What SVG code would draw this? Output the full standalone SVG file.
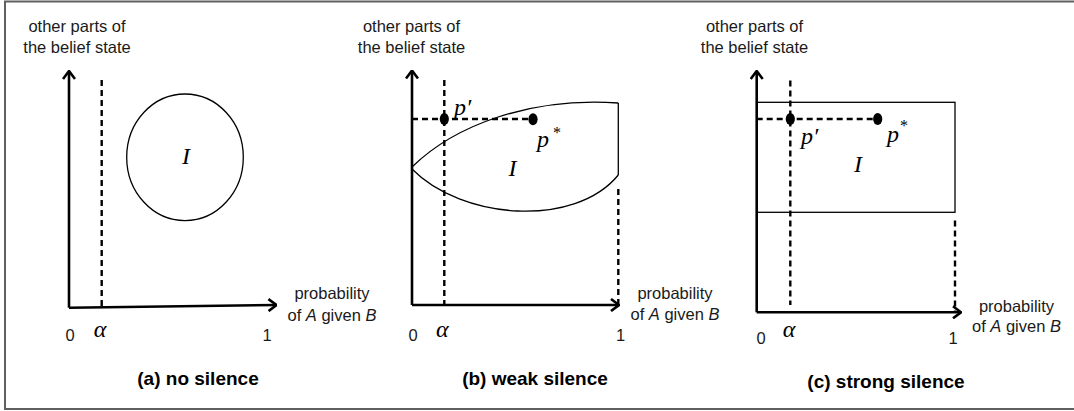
<svg xmlns="http://www.w3.org/2000/svg" width="1074" height="411" viewBox="0 0 1074 411">
  <style>
    .ax { stroke:#000; stroke-width:2.6; fill:none; marker-end:url(#arr); }
    .dash { stroke:#000; stroke-width:2.4; stroke-dasharray:6 4; fill:none; }
    .thin { stroke:#000; stroke-width:1.3; fill:none; }
    .dot { fill:#000; }
    .lbl { font-family:"Liberation Sans", Arial, sans-serif; font-size:16.5px; text-anchor:middle; fill:#1a1a1a; }
    .num { font-family:"Liberation Sans", Arial, sans-serif; font-size:16.5px; text-anchor:middle; fill:#1a1a1a; }
    .math { font-family:"Liberation Serif", "Times New Roman", serif; font-style:italic; font-size:24px; fill:#000; }
    .alpha { font-family:"Liberation Serif", "Times New Roman", serif; font-style:italic; font-size:24px; text-anchor:middle; fill:#000; }
    .star { font-family:"Liberation Serif", "Times New Roman", serif; font-size:16px; text-anchor:middle; fill:#000; }
    .title { font-family:"Liberation Sans", Arial, sans-serif; font-weight:bold; font-size:19px; text-anchor:middle; fill:#000; }
    .it { font-style:italic; }
  </style>
  <defs>
    <marker id="arr" viewBox="0 0 10 14" refX="9" refY="7" markerWidth="10" markerHeight="14" markerUnits="userSpaceOnUse" orient="auto">
      <path d="M1,1 L9,7 L1,13" fill="none" stroke="#000" stroke-width="2.6"/>
    </marker>
  </defs>
  <rect width="1074" height="411" fill="#fff"/>
  <path d="M1076,1.5 H5 V409 H1076" fill="none" stroke="#606060" stroke-width="2"/>

  <!-- Panel (a) -->
  <g id="panel-a">
    <g id="a-connectors">
      <line class="ax" x1="69" y1="307.7" x2="69" y2="71"/>
      <line class="ax" x1="69" y1="307.7" x2="276.5" y2="305"/>
      <line class="dash" x1="101.7" y1="80" x2="101.7" y2="307"/>
    </g>
    <g id="a-region-I">
      <ellipse class="thin" cx="185" cy="157.3" rx="58.3" ry="63.3"/>
      <text class="math" x="186" y="164" text-anchor="middle">I</text>
    </g>
    <g id="a-labels">
      <text class="lbl" x="77" y="32">other parts of</text>
      <text class="lbl" x="77" y="53">the belief state</text>
      <text class="lbl" x="332" y="299">probability</text>
      <text class="lbl" x="332" y="321">of <tspan class="it">A</tspan> given <tspan class="it">B</tspan></text>
      <text class="num" x="70" y="341">0</text>
      <text class="alpha" x="100" y="337">α</text>
      <text class="num" x="267" y="341">1</text>
      <text class="title" x="198" y="385">(a) no silence</text>
    </g>
  </g>

  <!-- Panel (b) -->
  <g id="panel-b">
    <g id="b-connectors">
      <line class="ax" x1="412" y1="305" x2="412" y2="70.5"/>
      <line class="ax" x1="412" y1="305" x2="619" y2="305"/>
      <line class="dash" x1="444.3" y1="80" x2="444.3" y2="305"/>
      <line class="dash" x1="412" y1="119" x2="533" y2="119"/>
      <line class="dash" x1="618.3" y1="189" x2="618.3" y2="305"/>
    </g>
    <g id="b-region-I">
      <path class="thin" d="M412,167 C455,125 530,97 618.3,103"/>
      <path class="thin" d="M412,169 C462,220 575,228 618.3,175"/>
      <line class="thin" x1="618.3" y1="103" x2="618.3" y2="175"/>
      <text class="math" x="512.5" y="176" text-anchor="middle">I</text>
    </g>
    <g id="b-p-prime">
      <ellipse class="dot" cx="444.3" cy="119" rx="4.6" ry="6"/>
      <text class="math" x="454" y="115">p′</text>
    </g>
    <g id="b-p-star">
      <ellipse class="dot" cx="533" cy="119.3" rx="4.6" ry="6"/>
      <text class="math" x="537" y="147">p</text>
      <text class="star" x="557" y="137.5">*</text>
    </g>
    <g id="b-labels">
      <text class="lbl" x="411.5" y="32">other parts of</text>
      <text class="lbl" x="411.5" y="53">the belief state</text>
      <text class="lbl" x="675" y="298.5">probability</text>
      <text class="lbl" x="675" y="319.5">of <tspan class="it">A</tspan> given <tspan class="it">B</tspan></text>
      <text class="num" x="413" y="341">0</text>
      <text class="alpha" x="442.3" y="337">α</text>
      <text class="num" x="620.5" y="341">1</text>
      <text class="title" x="535" y="385">(b) weak silence</text>
    </g>
  </g>

  <!-- Panel (c) -->
  <g id="panel-c">
    <g id="c-connectors">
      <line class="ax" x1="756.7" y1="312.3" x2="756.7" y2="71"/>
      <line class="ax" x1="756.7" y1="312.3" x2="961" y2="312.3"/>
      <line class="dash" x1="790.3" y1="80.5" x2="790.3" y2="305"/>
      <line class="dash" x1="756.7" y1="119" x2="877.7" y2="119"/>
      <line class="dash" x1="955" y1="220.5" x2="955" y2="311"/>
    </g>
    <g id="c-region-I">
      <rect class="thin" x="756.7" y="102.3" width="198.3" height="110"/>
      <text class="math" x="858" y="171.5" text-anchor="middle">I</text>
    </g>
    <g id="c-p-prime">
      <ellipse class="dot" cx="790.3" cy="119" rx="4.6" ry="6"/>
      <text class="math" x="801" y="144">p′</text>
    </g>
    <g id="c-p-star">
      <ellipse class="dot" cx="877.7" cy="119" rx="4.6" ry="6"/>
      <text class="math" x="887" y="142">p</text>
      <text class="star" x="904" y="131">*</text>
    </g>
    <g id="c-labels">
      <text class="lbl" x="754.5" y="32">other parts of</text>
      <text class="lbl" x="754.5" y="53">the belief state</text>
      <text class="lbl" x="1016.5" y="311.5">probability</text>
      <text class="lbl" x="1016.5" y="332">of <tspan class="it">A</tspan> given <tspan class="it">B</tspan></text>
      <text class="num" x="761" y="344">0</text>
      <text class="alpha" x="789" y="336.7">α</text>
      <text class="num" x="953" y="344">1</text>
      <text class="title" x="886" y="388">(c) strong silence</text>
    </g>
  </g>
</svg>
